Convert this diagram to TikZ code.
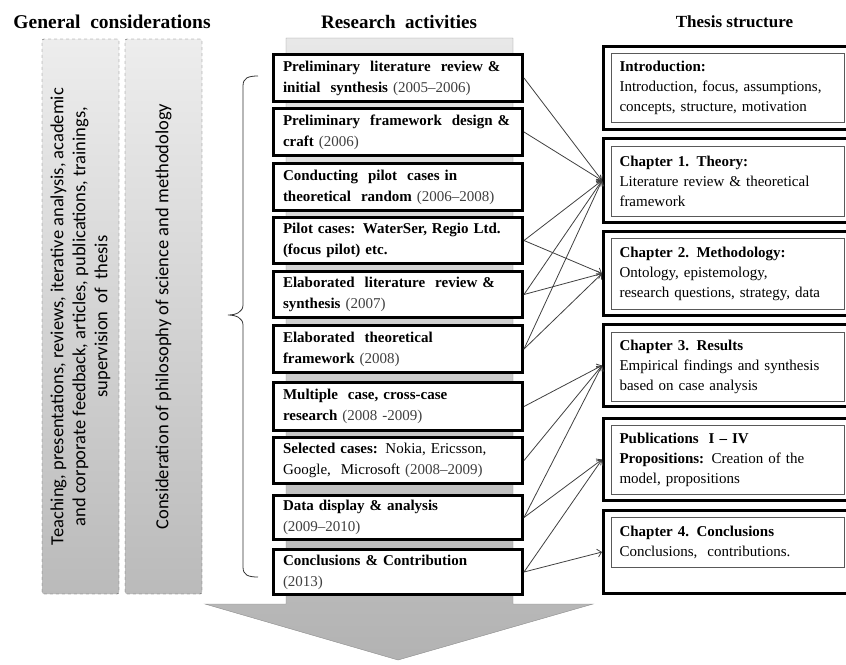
\documentclass[tikz,border=0pt]{standalone}
\usepackage{fontspec}
\setmainfont{Liberation Serif}
\newfontfamily\calibri{Carlito}
\usetikzlibrary{arrows.meta}

\newcommand\yrs[1]{{\mdseries\color{black!75}#1}}
\newcommand\upright[1]{\rotatebox{90}{\parbox{520pt}{\centering #1}}}

\tikzset{
	title/.style = {inner sep = 0pt, font = \bfseries\fontsize{19}{21}\selectfont},
	gen box/.style = {draw = black!70, dashed, rounded corners = 2pt, minimum width = 77pt, minimum height = 555pt, top color = black!7, bottom color = black!27, inner sep = 0pt, font = \calibri\fontsize{18.5}{22}\selectfont},
	act box/.style = {draw, line width = 2.6pt, fill = white, minimum width = 249.4pt, text width = 230pt, inner sep = 0pt, align = left, font = \bfseries\fontsize{15}{21}\selectfont},
	th frame/.style = {draw, line width = 3pt, fill = white, minimum width = 248pt, inner sep = 0pt},
	th text/.style = {draw = black!65, line width = 0.8pt, minimum width = 233pt, text width = 216pt, inner sep = 0pt, align = left, font = \fontsize{15}{20}\selectfont},
	conn/.style = {draw = black!75, line width = 0.8pt}
}

\begin{document}
\begin{tikzpicture}[x = 1pt, y = -1pt, > = {Straight Barb[length = 4pt, width = 8pt]}]

	\useasboundingbox (0, 0) rectangle (846, 664);
	\clip (0, 0) rectangle (846, 664);

	% Column titles

	\node [title, font = \bfseries\fontsize{19.5}{21}\selectfont] (gentitle) at (112, 22) {General\ \ considerations};
	\node [title] (acttitle) at (399, 22) {Research\ \ activities};
	\node [title, font = \bfseries\fontsize{17}{21}\selectfont] (thtitle) at (734.5, 22) {Thesis structure};

	% General considerations

	\node [gen box] (teaching) at (80.5, 316.5) {\upright{Teaching, presentations, reviews, iterative analysis, academic\\and corporate feedback, articles, publications, trainings,\\supervision\ \ of\ \ thesis}};
	\node [gen box] (philosophy) at (163.5, 316.5) {\upright{Consideration of philosophy of science and methodology}};

	% Brace

	\draw [black!80, line width = 0.8pt] (258, 76) .. controls (248, 76) and (243, 78) .. (243, 86) -- (243, 305) .. controls (243, 312) and (236, 315) .. (228, 315) .. controls (236, 315) and (243, 318) .. (243, 325) -- (243, 567) .. controls (243, 575) and (248, 577) .. (258, 577);

	% Big arrow behind the activities

	\draw [black!45, top color = black!9, bottom color = black!30] (286, 38) -- (513, 38) -- (513, 604) -- (593, 604) -- (398, 660) -- (205, 604) -- (286, 604) -- cycle;

	% Research activities

	\node [act box, minimum height = 47.4pt] (act1) at (398, 78) {Preliminary\ \ literature\ \ review \&\\initial\ \ synthesis \yrs{(2005--2006)}};
	\node [act box, minimum height = 47.4pt] (act2) at (398, 132) {Preliminary\ \ framework\ \ design \&\\craft \yrs{(2006)}};
	\node [act box, minimum height = 47.4pt] (act3) at (398, 187) {Conducting\ \ pilot\ \ cases in\\theoretical\ \ random \yrs{(2006--2008)}};
	\node [act box, minimum height = 46.4pt] (act4) at (398, 240.5) {Pilot cases: WaterSer, Regio Ltd.\\(focus pilot) etc.};
	\node [act box, minimum height = 46.4pt] (act5) at (398, 294.5) {Elaborated\ \ literature\ \ review \&\\synthesis \yrs{(2007)}};
	\node [act box, minimum height = 47.4pt] (act6) at (398, 349) {Elaborated\ \ theoretical\\framework \yrs{(2008)}};
	\node [act box, minimum height = 48.4pt] (act7) at (398, 406.5) {Multiple\ \ case, cross-case\\research \yrs{(2008 -2009)}};
	\node [act box, minimum height = 46.4pt] (act8) at (398, 460.5) {Selected cases: \mdseries Nokia, Ericsson,\\Google,\ \ Microsoft \yrs{(2008--2009)}};
	\node [act box, minimum height = 44.4pt] (act9) at (398, 517.5) {Data display \& analysis\\\yrs{(2009--2010)}};
	\node [act box, minimum height = 45.4pt] (act10) at (398, 572) {Conclusions \& Contribution\\\yrs{(2013)}};

	% Thesis structure

	\node [th frame, minimum height = 83pt] (intro) at (727.5, 88) {};
	\node [th text, minimum height = 69pt] (introtext) at (727.5, 87.5) {\textbf{Introduction:}\\Introduction, focus, assumptions,\\concepts, structure, motivation};

	\node [th frame, minimum height = 84pt] (chone) at (727.5, 180.5) {};
	\node [th text, minimum height = 70pt] (chonetext) at (727.5, 181) {\textbf{Chapter 1. Theory:}\\Literature review \& theoretical\\framework};

	\node [th frame, minimum height = 84pt] (chtwo) at (727.5, 273.5) {};
	\node [th text, minimum height = 71pt] (chtwotext) at (727.5, 273.5) {\textbf{Chapter 2. Methodology:}\\Ontology, epistemology,\\research questions, strategy, data};

	\node [th frame, minimum height = 82pt] (chthree) at (727.5, 365.5) {};
	\node [th text, minimum height = 69pt] (chthreetext) at (727.5, 366.5) {\textbf{Chapter 3. Results}\\Empirical findings and synthesis\\based on case analysis};

	\node [th frame, minimum height = 82pt] (publ) at (727.5, 459.5) {};
	\node [th text, minimum height = 69pt] (publtext) at (727.5, 459.5) {\textbf{Publications\ \ I -- IV}\\\textbf{Propositions:} Creation of the\\model, propositions};

	\node [th frame, minimum height = 83pt] (chfour) at (727.5, 552) {};
	\node [th text, minimum height = 50pt] (chfourtext) at (727.5, 542) {\textbf{Chapter 4. Conclusions}\\Conclusions,\ \ contributions.};

	% Links from activities to chapters

	\begin{scope}[->, conn]

		\draw (act1.east) -- (chone.west);
		\draw (act2.east) -- (chone.west);
		\draw (act4.east) -- (chone.west);
		\draw (act4.east) -- (chtwo.west);
		\draw (act5.east) -- (chone.west);
		\draw (act5.east) -- (chtwo.west);
		\draw (act6.east) -- (chone.west);
		\draw (act6.east) -- (chtwo.west);
		\draw (act7.east) -- (chthree.west);
		\draw (act8.east) -- (chthree.west);
		\draw (act9.east) -- (chthree.west);
		\draw (act9.east) -- (publ.west);
		\draw (act10.east) -- (publ.west);
		\draw (act10.east) -- (chfour.west);

	\end{scope}

\end{tikzpicture}
\end{document}
